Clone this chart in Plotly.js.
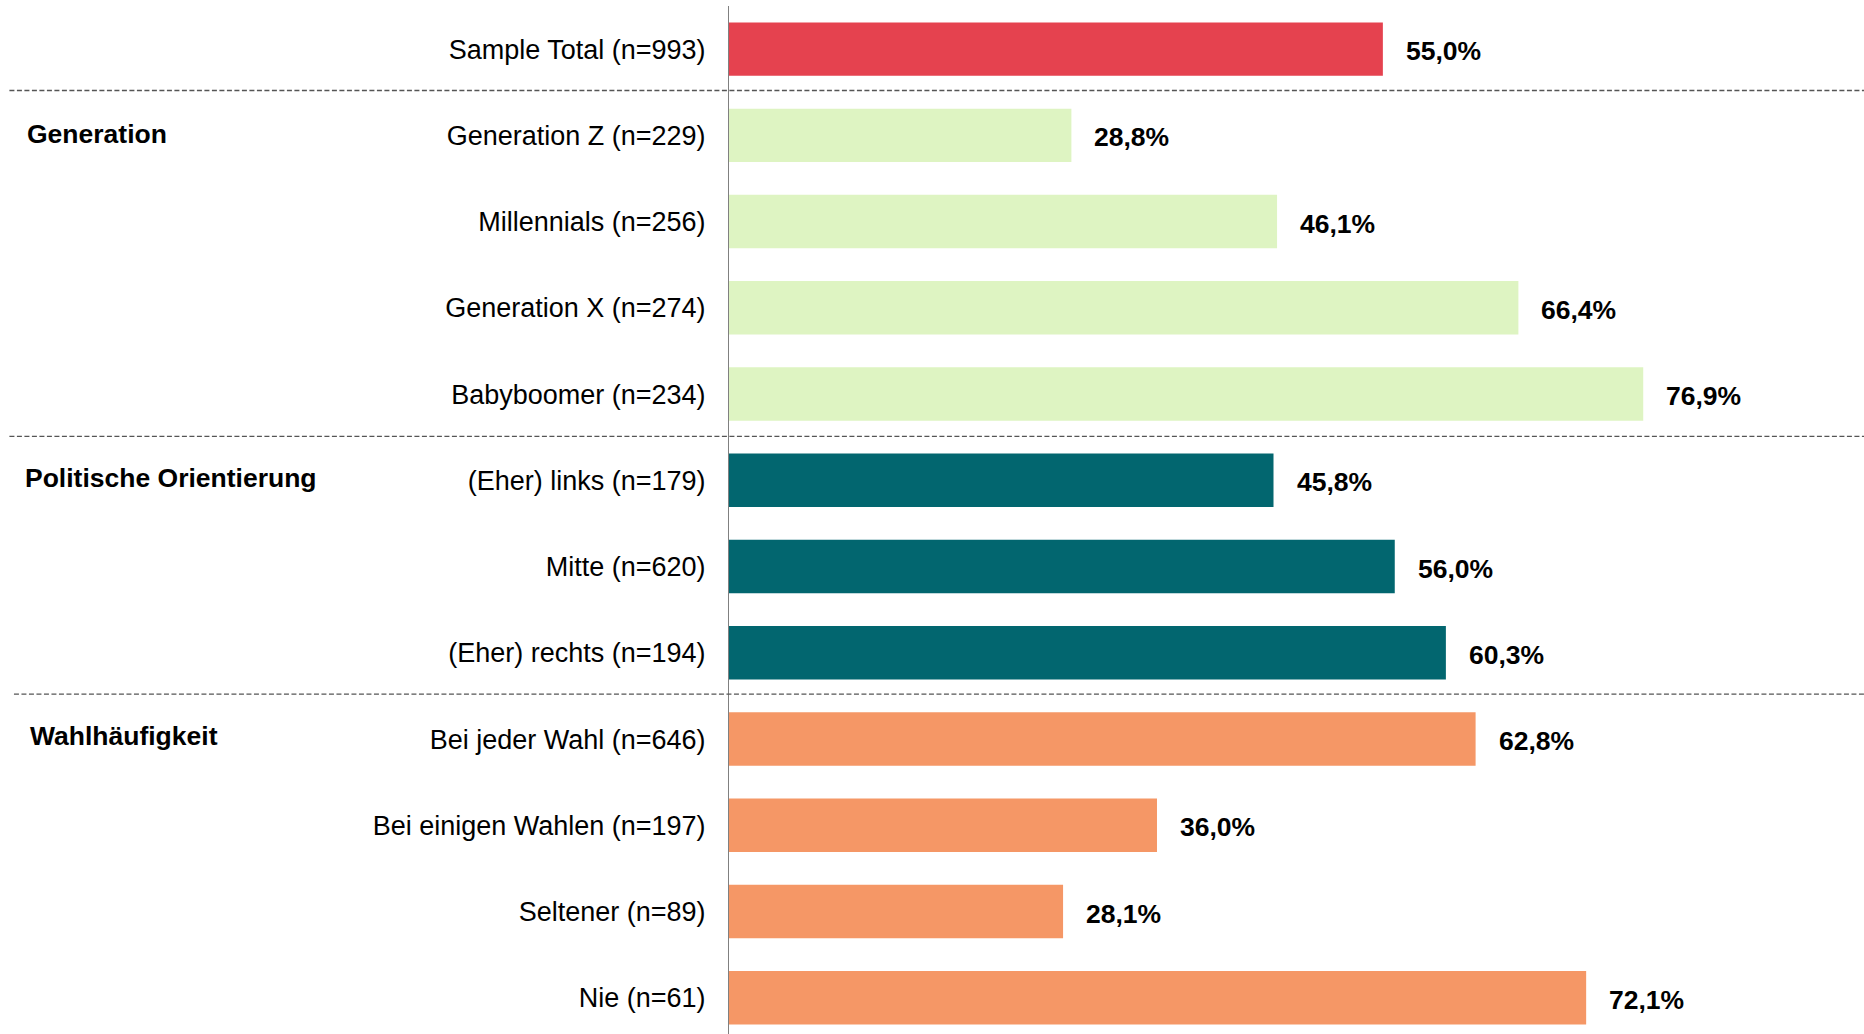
<!DOCTYPE html>
<html>
<head>
<meta charset="utf-8">
<script src="https://cdn.plot.ly/plotly-3.0.1.min.js"></script>
<style>html,body{margin:0;padding:0;background:#fff;}#chart{width:1864px;height:1034px;}</style>
</head>
<body>
<div id="chart"></div>
<script>
const categories = [
  "Sample Total (n=993)",
  "Generation Z (n=229)",
  "Millennials (n=256)",
  "Generation X (n=274)",
  "Babyboomer (n=234)",
  "(Eher) links (n=179)",
  "Mitte (n=620)",
  "(Eher) rechts (n=194)",
  "Bei jeder Wahl (n=646)",
  "Bei einigen Wahlen (n=197)",
  "Seltener (n=89)",
  "Nie (n=61)"
];
const values = [55.0, 28.8, 46.1, 66.4, 76.9, 45.8, 56.0, 60.3, 62.8, 36.0, 28.1, 72.1];
const groupOf = ["total","gen","gen","gen","gen","pol","pol","pol","wahl","wahl","wahl","wahl"];
const groupColors = {total:"#E5424F", gen:"#DEF4C2", pol:"#02666F", wahl:"#F59766"};
const groupHeaders = ["Generation", "Politische Orientierung", "Wahlhäufigkeit"];
const groupHeaderAt = [1, 5, 8];
const separatorsAfter = [0, 4, 7];

const fontFam = "Liberation Sans, Arial, sans-serif";
const labels = values.map(v => v.toFixed(1).replace(".", ",") + "%");

const trace = {
  type: "bar",
  orientation: "h",
  x: values,
  y: categories,
  width: 0.62,
  marker: {color: groupOf.map(g => groupColors[g]), line: {width: 0}},
  hoverinfo: "skip"
};

const annotations = [];
values.forEach((v, i) => {
  annotations.push({
    x: v, y: categories[i], xref: "x", yref: "y",
    text: "<b>" + labels[i] + "</b>", showarrow: false,
    xanchor: "left", yanchor: "middle", xshift: 21, yshift: -2,
    font: {family: fontFam, size: 26.5, color: "#000"}
  });
});
const headerX = [-0.620, -0.622, -0.618];
const headerShift = [1, 2, 3];
groupHeaders.forEach((h, k) => {
  annotations.push({
    x: headerX[k], y: categories[groupHeaderAt[k]], xref: "paper", yref: "y",
    text: "<b>" + h + "</b>", showarrow: false,
    xanchor: "left", yanchor: "middle", yshift: headerShift[k],
    font: {family: fontFam, size: 26.5, color: "#000"}
  });
});

const sepX0 = [-0.634, -0.634, -0.630];
const sepOffset = [-0.02, -0.01, -0.02];
const shapes = separatorsAfter.map((s, k) => ({
  type: "line", xref: "paper", yref: "y",
  x0: sepX0[k], x1: 1, y0: s + 0.5 + sepOffset[k], y1: s + 0.5 + sepOffset[k],
  line: {color: "#555555", width: 1.3, dash: "5px,2.5px"}
}));

const layout = {
  width: 1864, height: 1034,
  margin: {l: 729, r: 0, t: 6, b: 0, pad: 0},
  paper_bgcolor: "#fff", plot_bgcolor: "#fff",
  showlegend: false,
  font: {family: fontFam, size: 27, color: "#000"},
  xaxis: {range: [0, 95.47], visible: false, showgrid: false, zeroline: false, fixedrange: true},
  yaxis: {
    type: "category", categoryorder: "array", categoryarray: categories,
    range: [11.42, -0.5], autorange: false,
    showline: true, linecolor: "#808080", linewidth: 1,
    showgrid: false, zeroline: false, ticks: "",
    ticklabelstandoff: 17,
    tickfont: {family: fontFam, size: 27, color: "#000"}
  },
  bargap: 0.38,
  annotations: annotations,
  shapes: shapes
};

Plotly.newPlot("chart", [trace], layout, {displayModeBar: false, staticPlot: true});
</script>
</body>
</html>
